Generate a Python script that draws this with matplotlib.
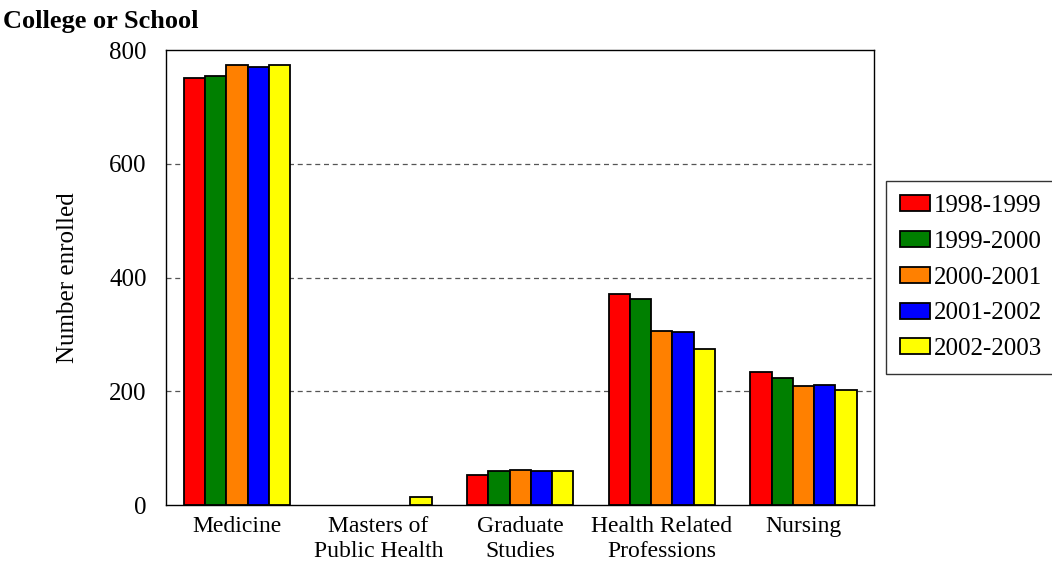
import matplotlib
matplotlib.use('Agg')
import matplotlib.pyplot as plt
import numpy as np

plt.rcParams['font.family'] = ['Liberation Serif', 'DejaVu Serif']

categories = ['Medicine', 'Masters of\nPublic Health', 'Graduate\nStudies',
              'Health Related\nProfessions', 'Nursing']
years = ['1998-1999', '1999-2000', '2000-2001', '2001-2002', '2002-2003']
values = {
    '1998-1999': [751, 0, 54, 372, 234],
    '1999-2000': [755, 0, 60, 362, 224],
    '2000-2001': [774, 0, 62, 306, 209],
    '2001-2002': [771, 0, 61, 304, 212],
    '2002-2003': [774, 14, 61, 274, 203],
}
colors = ['#ff0000', '#007f00', '#ff8000', '#0000ff', '#ffff00']

fig = plt.figure(figsize=(10.52, 5.69), dpi=100)
ax = fig.add_axes([0.158, 0.112, 0.673, 0.8])

x = np.arange(len(categories))
w = 0.15
for i, (yr, c) in enumerate(zip(years, colors)):
    vals = values[yr]
    bars = ax.bar(x + (i - 2) * w, vals, w, color=c, edgecolor='black',
                  linewidth=1.3, label=yr, zorder=3)
    # zero-height bars show nothing in the original
    for b, v in zip(bars, vals):
        if v == 0:
            b.set_linewidth(0)

ax.set_xlim(-0.5, len(categories) - 0.5)
ax.set_ylim(0, 800)
ax.set_yticks([0, 200, 400, 600, 800])
ax.set_xticks(x)
ax.set_xticklabels(categories, fontsize=17, linespacing=1.2)
for lbl in ax.get_yticklabels():
    lbl.set_fontsize(18)
ax.tick_params(axis='y', length=0, pad=14)
ax.tick_params(axis='x', length=0, pad=8)
for v in [200, 400, 600]:
    ax.axhline(v, color='#555555', linestyle=(0, (4, 3)), linewidth=0.9, zorder=1)
for s in ax.spines.values():
    s.set_linewidth(1.0)
ax.set_ylabel('Number enrolled', fontsize=18, labelpad=22)

fig.text(0.003, 0.963, 'College or School', fontsize=19, fontweight='bold',
         va='center')

leg = ax.legend(loc='center left', bbox_to_anchor=(1.017, 0.5), fontsize=18,
                frameon=True, fancybox=False, edgecolor='black',
                handlelength=1.2, handleheight=0.6, handletextpad=0.15,
                labelspacing=0.55, borderpad=0.55, borderaxespad=0)
leg.get_frame().set_linewidth(1.0)

fig.savefig('out.png', dpi=100)
